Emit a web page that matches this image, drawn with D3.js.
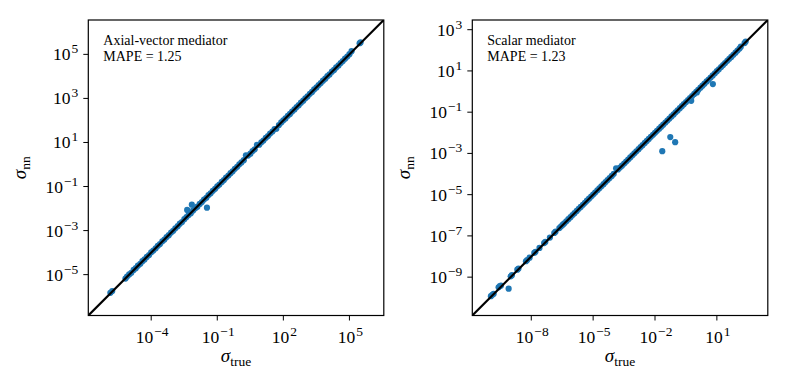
<!DOCTYPE html>
<html>
<head>
<meta charset="utf-8">
<script src="https://cdn.jsdelivr.net/npm/d3@7"></script>
<style>
  body { margin: 0; background: #fff; }
  svg text { font-family: "Liberation Serif", "Times New Roman", serif; fill: #000; }
</style>
</head>
<body>
<div id="chart-area"></div>
<script>
// axial-vector mediator: sigma_true vs sigma_nn
const axialTrue = [
  1.4e-6, 1.7e-6, 6.8e-6, 8e-6,
  1e-5, 1.25e-5, 1.6e-5, 2e-5, 2.5e-5, 3.2e-5, 4e-5, 5e-5, 6.3e-5, 8e-5,
  1e-4, 1.25e-4, 1.6e-4, 2e-4, 2.5e-4, 3.2e-4, 4e-4, 5e-4, 6.3e-4, 8e-4,
  1e-3, 1.25e-3, 1.6e-3, 2e-3, 2.5e-3, 3.2e-3, 4e-3, 4.3e-3, 5e-3, 6.3e-3, 7e-3, 8e-3,
  1e-2, 1.25e-2, 1.6e-2, 2e-2, 2.5e-2, 3.2e-2, 3.4e-2, 4e-2, 5e-2, 6.3e-2, 8e-2,
  0.1, 0.125, 0.16, 0.2, 0.25, 0.32, 0.4, 0.5, 0.63, 0.8,
  1, 1.25, 1.6, 2, 2.5, 3.2, 4, 5, 6.3, 8,
  10, 12.5, 16, 20, 25, 32, 40, 48, 63, 80,
  100, 125, 160, 200, 250, 320, 400, 500, 630, 800,
  1e3, 1.25e3, 1.6e3, 2e3, 2.5e3, 3.2e3, 4e3, 5e3, 6.3e3, 8e3,
  1e4, 1.25e4, 1.6e4, 2e4, 2.5e4, 3.2e4, 4e4, 5e4, 6.3e4, 8e4,
  1e5, 1.25e5, 2.9e5, 3.2e5
];
const axialNN = [
  1.5e-6, 1.8e-6, 6.6e-6, 8.2e-6,
  1.02e-5, 1.22e-5, 1.63e-5, 1.97e-5, 2.55e-5, 3.1e-5, 4.1e-5, 4.9e-5, 6.4e-5, 7.8e-5,
  1.03e-4, 1.24e-4, 1.57e-4, 2.05e-4, 2.45e-4, 3.25e-4, 3.9e-4, 5.1e-4, 6.2e-4, 8.1e-4,
  0.98e-3, 1.27e-3, 1.58e-3, 2.05e-3, 2.45e-3, 3.3e-3, 4.1e-3, 8.7e-3, 5.1e-3, 6.2e-3, 1.5e-2, 8.2e-3,
  1.03e-2, 1.22e-2, 1.62e-2, 1.96e-2, 2.55e-2, 3.1e-2, 1.1e-2, 4.1e-2, 4.9e-2, 6.4e-2, 7.9e-2,
  0.102, 0.123, 0.162, 0.197, 0.255, 0.315, 0.405, 0.49, 0.64, 0.79,
  1.02, 1.24, 1.58, 2.6, 2.55, 3.1, 4.1, 4.9, 7.8, 7.9,
  10.2, 12.3, 16.3, 19.6, 25.5, 31.5, 40.5, 42, 62, 81,
  101, 124, 163, 197, 255, 315, 405, 495, 640, 790,
  1.02e3, 1.23e3, 1.62e3, 1.97e3, 2.55e3, 3.15e3, 4.05e3, 4.95e3, 6.4e3, 7.9e3,
  1.02e4, 1.23e4, 1.63e4, 1.97e4, 2.55e4, 3.15e4, 4.05e4, 4.95e4, 6.4e4, 7.9e4,
  1.02e5, 1.4e5, 3.2e5, 3.5e5
];

// scalar mediator: sigma_true vs sigma_nn
const scalarTrue = [
  1.1e-10, 1.3e-10, 1.5e-10, 2.6e-10, 3e-10, 3.4e-10, 8e-10,
  1e-9, 1.15e-9, 2.1e-9, 2.4e-9, 5.5e-9, 6.3e-9, 8.3e-9,
  1.4e-8, 1.6e-8, 2.5e-8, 4.2e-8, 4.8e-8, 8e-8,
  1.3e-7, 1.5e-7, 2.3e-7, 2.8e-7, 3.4e-7, 4e-7, 5e-7, 6.3e-7, 8e-7,
  1e-6, 1.25e-6, 1.6e-6, 2e-6, 2.5e-6, 3.2e-6, 4e-6, 5e-6, 6.3e-6, 8e-6,
  1e-5, 1.25e-5, 1.6e-5, 2e-5, 2.5e-5, 3.2e-5, 4e-5, 5e-5, 6.3e-5, 8e-5,
  1e-4, 1.3e-4, 1.6e-4, 2e-4, 2.5e-4, 3.2e-4, 4e-4, 5e-4, 6.3e-4, 8e-4,
  1e-3, 1.25e-3, 1.6e-3, 2e-3, 2.5e-3, 3.2e-3, 4e-3, 5e-3, 6.3e-3, 8e-3,
  1e-2, 1.25e-2, 1.6e-2, 2e-2, 2.25e-2, 2.5e-2, 3.2e-2, 4e-2, 5e-2, 5.5e-2, 6.3e-2, 8e-2, 9.5e-2,
  0.1, 0.125, 0.16, 0.2, 0.25, 0.32, 0.4, 0.5, 0.57, 0.63, 0.8,
  1, 1.07, 1.25, 1.6, 2, 2.5, 3.2, 4, 5, 6.3, 6.4, 8,
  10, 12.5, 16, 20, 25, 32, 40, 50, 63, 80,
  100, 125, 145, 220, 250
];
const scalarNN = [
  1.2e-10, 1.4e-10, 1.55e-10, 3.2e-10, 3.7e-10, 3.9e-10, 2.75e-10,
  1.1e-9, 1.25e-9, 2.3e-9, 2.6e-9, 5.9e-9, 6.8e-9, 8.8e-9,
  1.5e-8, 1.7e-8, 2.6e-8, 4.5e-8, 5.1e-8, 8.3e-8,
  1.38e-7, 1.6e-7, 2.4e-7, 2.9e-7, 3.5e-7, 4.1e-7, 5.1e-7, 6.5e-7, 8.1e-7,
  1.02e-6, 1.27e-6, 1.62e-6, 2.05e-6, 2.55e-6, 3.25e-6, 4.05e-6, 5.1e-6, 6.4e-6, 8.1e-6,
  1.02e-5, 1.27e-5, 1.63e-5, 2.04e-5, 2.56e-5, 3.24e-5, 4.06e-5, 5.08e-5, 6.38e-5, 8.1e-5,
  1.02e-4, 1.9e-4, 1.66e-4, 2.05e-4, 2.55e-4, 3.25e-4, 4.05e-4, 5.05e-4, 6.4e-4, 8.05e-4,
  1.01e-3, 1.26e-3, 1.61e-3, 2.02e-3, 2.52e-3, 3.22e-3, 4.03e-3, 5.05e-3, 6.35e-3, 8.05e-3,
  1.0e-2, 1.24e-2, 1.58e-2, 1.98e-2, 1.29e-3, 2.47e-2, 3.15e-2, 3.95e-2, 4.9e-2, 6.2e-3, 6.2e-2, 7.8e-2, 3.5e-3,
  0.098, 0.122, 0.156, 0.195, 0.245, 0.31, 0.39, 0.485, 0.357, 0.61, 0.77,
  0.97, 0.91, 1.2, 1.55, 1.93, 2.4, 3.1, 3.85, 4.8, 6.05, 2.3, 7.7,
  9.7, 12.1, 15.5, 19.3, 24.2, 31, 38.5, 48, 61, 77,
  97, 121, 150, 225, 265
];

const axialXTicks = [-4, -1, 2, 5];
const axialYTicks = [-5, -3, -1, 1, 3, 5];
const scalarXTicks = [-8, -5, -2, 1];
const scalarYTicks = [-9, -7, -5, -3, -1, 1, 3];

const panels = [
  { left: 88.3, top: 20, size: 295.5, lim: [-6.855, 6.56],
    tx: axialTrue, ty: axialNN, xt: axialXTicks, yt: axialYTicks,
    title: "Axial-vector mediator", mape: "MAPE = 1.25" },
  { left: 472.3, top: 20, size: 295.5, lim: [-10.86, 3.47],
    tx: scalarTrue, ty: scalarNN, xt: scalarXTicks, yt: scalarYTicks,
    title: "Scalar mediator", mape: "MAPE = 1.23" }
];

var svg = d3.select("#chart-area")
  .append("svg")
  .attr("width", 788)
  .attr("height", 383);

function powLabel(sel, e) {
  sel.append("tspan").text("10");
  sel.append("tspan")
    .attr("dx", 1)
    .attr("dy", -7)
    .attr("font-size", "13.5px")
    .text(e < 0 ? "\u2212" + Math.abs(e) : e);
}

panels.forEach((p, i) => {
  var w = p.size, h = p.size;
  var g = svg.append("g").attr("transform", `translate(${p.left}, ${p.top})`);

  var x = d3.scaleLog().domain([10 ** p.lim[0], 10 ** p.lim[1]]).range([0, w]);
  var y = d3.scaleLog().domain([10 ** p.lim[0], 10 ** p.lim[1]]).range([h, 0]);

  g.append("clipPath").attr("id", "clip" + i)
    .append("rect").attr("width", w).attr("height", h);

  var data = p.tx.map((v, k) => ({ t: v, n: p.ty[k] }));

  g.append("g").attr("clip-path", `url(#clip${i})`)
    .selectAll("circle")
    .data(data)
    .enter()
    .append("circle")
    .attr("cx", d => x(d.t))
    .attr("cy", d => y(d.n))
    .attr("r", 3.1)
    .attr("fill", "#1f77b4");

  // y = x reference line
  g.append("line")
    .attr("clip-path", `url(#clip${i})`)
    .attr("x1", x(10 ** p.lim[0])).attr("y1", y(10 ** p.lim[0]))
    .attr("x2", x(10 ** p.lim[1])).attr("y2", y(10 ** p.lim[1]))
    .attr("stroke", "#000")
    .attr("stroke-width", 2.2);

  g.append("rect")
    .attr("width", w).attr("height", h)
    .attr("fill", "none")
    .attr("stroke", "#000")
    .attr("stroke-width", 1.2);

  // x ticks
  p.xt.forEach(e => {
    var px = x(10 ** e);
    g.append("line").attr("x1", px).attr("x2", px).attr("y1", h).attr("y2", h + 5)
      .attr("stroke", "#000").attr("stroke-width", 1);
    var t = g.append("text")
      .attr("x", px + 1)
      .attr("y", h + 27)
      .attr("text-anchor", "middle")
      .attr("font-size", "17.5px");
    powLabel(t, e);
  });

  // y ticks
  p.yt.forEach(e => {
    var py = y(10 ** e);
    g.append("line").attr("x1", -5).attr("x2", 0).attr("y1", py).attr("y2", py)
      .attr("stroke", "#000").attr("stroke-width", 1);
    var t = g.append("text")
      .attr("x", -10)
      .attr("y", py + 6)
      .attr("text-anchor", "end")
      .attr("font-size", "17.5px");
    powLabel(t, e);
  });

  g.append("text")
    .attr("x", 15).attr("y", 25)
    .attr("font-size", "14px")
    .text(p.title);
  g.append("text")
    .attr("x", 15).attr("y", 41)
    .attr("font-size", "14px")
    .text(p.mape);

  var xl = g.append("text")
    .attr("x", w / 2)
    .attr("y", h + 46)
    .attr("text-anchor", "middle")
    .attr("font-size", "19px");
  xl.append("tspan").attr("font-style", "italic").text("\u03c3");
  xl.append("tspan").attr("dy", 4).attr("font-size", "13.5px").text("true");

  var yl = g.append("text")
    .attr("transform", `translate(${-62}, ${h / 2}) rotate(-90)`)
    .attr("text-anchor", "middle")
    .attr("font-size", "19px");
  yl.append("tspan").attr("font-style", "italic").text("\u03c3");
  yl.append("tspan").attr("dy", 4).attr("font-size", "13.5px").text("nn");
});
</script>
</body>
</html>
